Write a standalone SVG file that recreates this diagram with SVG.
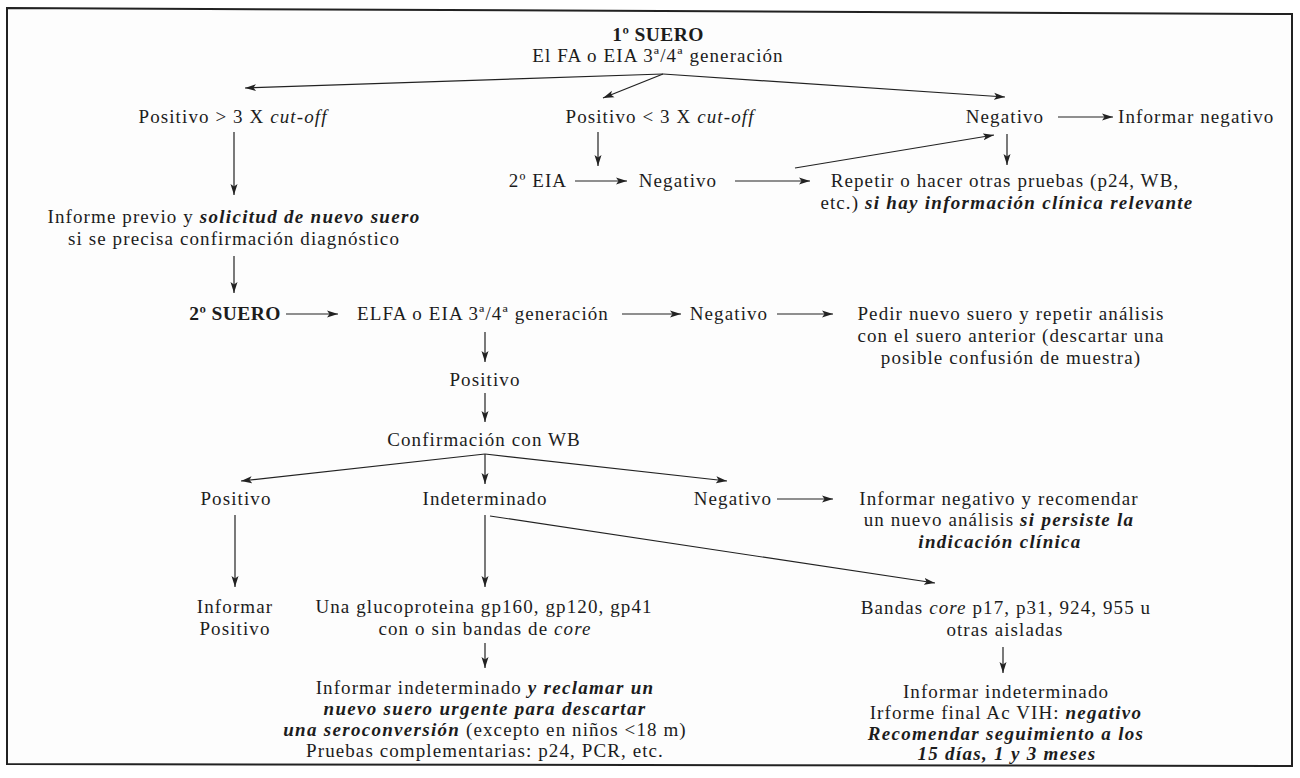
<svg xmlns="http://www.w3.org/2000/svg" width="1300" height="778" viewBox="0 0 1300 778">
<style>
.t{font-family:"Liberation Serif","Times New Roman",serif;font-size:19px;letter-spacing:1.1px;fill:#1c1c1c;text-anchor:middle}
.s{text-anchor:start}
.i{font-style:italic}
.bi{font-weight:bold;font-style:italic;letter-spacing:1.3px}
.hd{font-size:19.5px;font-weight:bold;letter-spacing:0.4px}
.c line{stroke:#222;stroke-width:1.2;marker-end:url(#ah)}
</style>
<defs>
<marker id="ah" markerUnits="userSpaceOnUse" markerWidth="11" markerHeight="8" viewBox="0 0 11 8" refX="11" refY="4" orient="auto">
<path d="M0,0.5 L11,4 L0,7.5 L2.5,4 Z" fill="#222"/>
</marker>
</defs>
<rect x="0" y="0" width="1300" height="778" fill="#ffffff"/>
<path d="M7,8 L1292,14 L1292,766 L7,764 Z" fill="#fdfdfd" stroke="#222" stroke-width="2"/>

<g class="c" id="connectors">
<line x1="663" y1="74" x2="245" y2="88"/>
<line x1="663" y1="74" x2="603" y2="98"/>
<line x1="663" y1="74" x2="1005" y2="97"/>
<line x1="1058" y1="117" x2="1113" y2="117"/>
<line x1="234" y1="132" x2="234" y2="195"/>
<line x1="598" y1="132" x2="598" y2="166"/>
<line x1="1007" y1="134" x2="1007" y2="165"/>
<line x1="575" y1="181" x2="627" y2="181"/>
<line x1="735" y1="181" x2="810" y2="181"/>
<line x1="795" y1="168" x2="994" y2="135"/>
<line x1="234" y1="256" x2="234" y2="293"/>
<line x1="286" y1="314" x2="338" y2="314"/>
<line x1="622" y1="314" x2="681" y2="314"/>
<line x1="777" y1="314" x2="833" y2="314"/>
<line x1="485" y1="332" x2="485" y2="362"/>
<line x1="485" y1="393" x2="485" y2="422"/>
<line x1="485" y1="454" x2="241" y2="481"/>
<line x1="485" y1="454" x2="485" y2="484"/>
<line x1="485" y1="454" x2="727" y2="481"/>
<line x1="777" y1="499" x2="833" y2="499"/>
<line x1="235" y1="515" x2="235" y2="587"/>
<line x1="485" y1="515" x2="485" y2="587"/>
<line x1="490" y1="516" x2="935" y2="583"/>
<line x1="485" y1="643" x2="485" y2="668"/>
<line x1="1003" y1="647" x2="1003" y2="673"/>
</g>

<g id="n-suero1">
<text class="t hd" x="658" y="41">1º SUERO</text>
<text class="t" x="658" y="62">El FA o EIA 3ª/4ª generación</text>
</g>
<g id="n-pos-high"><text class="t" x="233" y="123">Positivo &gt; 3 X <tspan class="i">cut-off</tspan></text></g>
<g id="n-pos-low"><text class="t" x="660" y="123">Positivo &lt; 3 X <tspan class="i">cut-off</tspan></text></g>
<g id="n-neg1"><text class="t" x="1005" y="123">Negativo</text></g>
<g id="n-inf-neg"><text class="t s" x="1118" y="123">Informar negativo</text></g>
<g id="n-eia2"><text class="t" x="538" y="187">2º EIA</text></g>
<g id="n-neg2"><text class="t" x="678" y="187">Negativo</text></g>
<g id="n-repetir">
<text class="t" x="1005" y="187">Repetir o hacer otras pruebas (p24, WB,</text>
<text class="t" x="1007" y="209">etc.) <tspan class="bi">si hay información clínica relevante</tspan></text>
</g>
<g id="n-informe-previo">
<text class="t" x="234" y="223">Informe previo y <tspan class="bi">solicitud de nuevo suero</tspan></text>
<text class="t" x="234" y="245">si se precisa confirmación diagnóstico</text>
</g>
<g id="n-suero2"><text class="t hd" x="235" y="320">2º SUERO</text></g>
<g id="n-elfa"><text class="t" x="483" y="320">ELFA o EIA 3ª/4ª generación</text></g>
<g id="n-neg3"><text class="t" x="729" y="320">Negativo</text></g>
<g id="n-pedir">
<text class="t" x="1011" y="320">Pedir nuevo suero y repetir análisis</text>
<text class="t" x="1011" y="342">con el suero anterior (descartar una</text>
<text class="t" x="1011" y="364">posible confusión de muestra)</text>
</g>
<g id="n-pos2"><text class="t" x="485" y="386">Positivo</text></g>
<g id="n-wb"><text class="t" x="484" y="446">Confirmación con WB</text></g>
<g id="n-wb-pos"><text class="t" x="236" y="505">Positivo</text></g>
<g id="n-wb-ind"><text class="t" x="485" y="505">Indeterminado</text></g>
<g id="n-wb-neg"><text class="t" x="733" y="505">Negativo</text></g>
<g id="n-wb-neg-inf">
<text class="t" x="999" y="505">Informar negativo y recomendar</text>
<text class="t" x="999" y="526">un nuevo análisis <tspan class="bi">si persiste la</tspan></text>
<text class="t bi" x="1000" y="548">indicación clínica</text>
</g>
<g id="n-inf-pos">
<text class="t" x="235" y="613">Informar</text>
<text class="t" x="235" y="635">Positivo</text>
</g>
<g id="n-gluco">
<text class="t" x="484" y="613">Una glucoproteina gp160, gp120, gp41</text>
<text class="t" x="485" y="635">con o sin bandas de <tspan class="i">core</tspan></text>
</g>
<g id="n-bandas">
<text class="t" x="1006" y="614">Bandas <tspan class="i">core</tspan> p17, p31, 924, 955 u</text>
<text class="t" x="1005" y="636">otras aisladas</text>
</g>
<g id="n-ind-reclamar">
<text class="t" x="485" y="694">Informar indeterminado <tspan class="bi">y reclamar un</tspan></text>
<text class="t bi" x="485" y="715">nuevo suero urgente para descartar</text>
<text class="t" x="485" y="736"><tspan class="bi">una seroconversión</tspan> (excepto en niños &lt;18 m)</text>
<text class="t" x="485" y="757">Pruebas complementarias: p24, PCR, etc.</text>
</g>
<g id="n-ind-final">
<text class="t" x="1006" y="698">Informar indeterminado</text>
<text class="t" x="1006" y="719">Irforme final Ac VIH: <tspan class="bi">negativo</tspan></text>
<text class="t bi" x="1006" y="740">Recomendar seguimiento a los</text>
<text class="t bi" x="1007" y="760">15 días, 1 y 3 meses</text>
</g>
</svg>
